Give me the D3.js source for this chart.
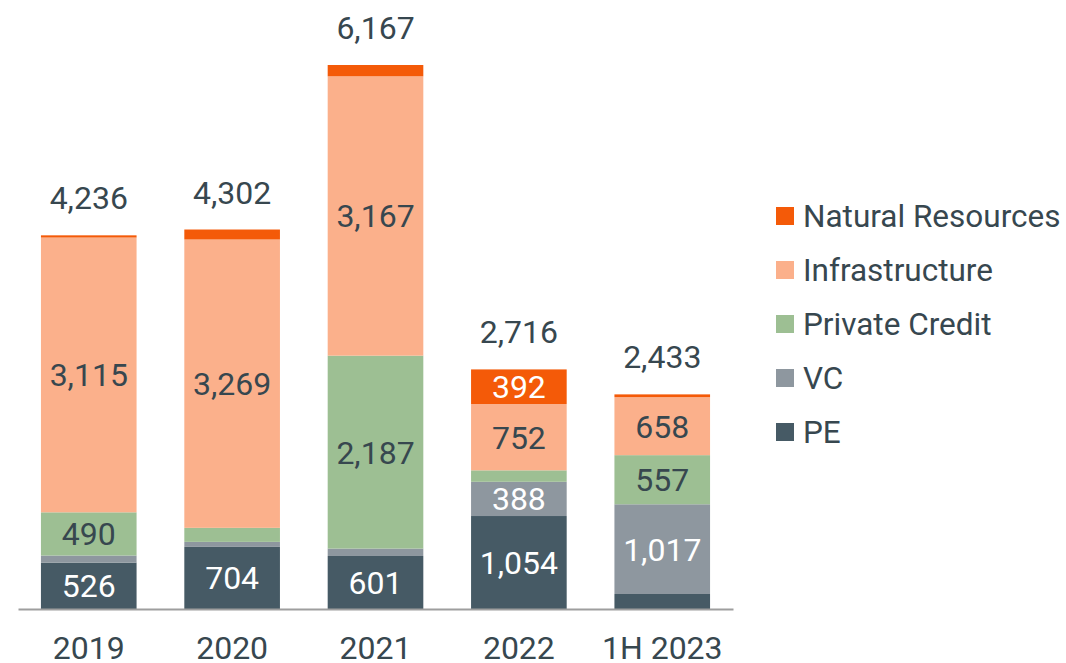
<!DOCTYPE html>
<html>
<head>
<meta charset="utf-8">
<script src="https://cdn.jsdelivr.net/npm/d3@7"></script>
<style>
	body { margin: 0; background: #fff; }
	svg { display: block; font-family: Roboto, "Noto Sans", sans-serif; }
</style>
</head>
<body>
<div id="container"></div>
<script>
"use strict";

// categories + series
const years = ["2019", "2020", "2021", "2022", "1H 2023"];
const series = ["PE", "VC", "Private Credit", "Infrastructure", "Natural Resources"];
const pe = [526, 704, 601, 1054, 170];
const vc = [80, 57, 84, 388, 1017];
const privateCredit = [490, 159, 2187, 130, 557];
const infrastructure = [3115, 3269, 3167, 752, 658];
const naturalResources = [25, 113, 128, 392, 31];
const totals = [4236, 4302, 6167, 2716, 2433];

const colors = ["#465a65", "#8e979f", "#9dbf93", "#fbb08b", "#f45a08"];
const labelColors = ["#fff", "#fff", "#37474f", "#37474f", "#fff"];
const textColor = "#37474f";
const fontSize = 32;

const W = 1066, H = 663;

const rows = years.map((y, i) => ({
	year: y,
	"PE": pe[i],
	"VC": vc[i],
	"Private Credit": privateCredit[i],
	"Infrastructure": infrastructure[i],
	"Natural Resources": naturalResources[i],
	total: totals[i],
}));

const svg = d3.select("#container")
	.append("svg")
	.attr("width", W)
	.attr("height", H);

const x = d3.scaleBand()
	.domain(years)
	.range([18, 733])
	.paddingInner(0.333)
	.paddingOuter(0.16);

const y = d3.scaleLinear()
	.domain([0, 6167])
	.range([609, 65]);

const stacked = d3.stack().keys(series)(rows);

// bars
const layers = svg.append("g")
	.selectAll("g")
	.data(stacked)
	.enter()
	.append("g")
	.attr("fill", (d, i) => colors[i]);

layers.selectAll("rect")
	.data(d => d)
	.enter()
	.append("rect")
	.attr("x", d => x(d.data.year))
	.attr("width", x.bandwidth())
	.attr("y", d => y(d[1]))
	.attr("height", d => y(d[0]) - y(d[1]));

// segment labels (only for the big enough segments)
const fmt = d3.format(",");
layers.each(function (layer, li) {
	d3.select(this).selectAll("text")
		.data(layer.filter(d => d[1] - d[0] > 300))
		.enter()
		.append("text")
		.attr("x", d => x(d.data.year) + x.bandwidth() / 2)
		.attr("y", d => (y(d[0]) + y(d[1])) / 2)
		.attr("dy", "0.36em")
		.attr("text-anchor", "middle")
		.attr("font-size", fontSize)
		.attr("fill", labelColors[li])
		.text(d => fmt(d[1] - d[0]));
});

// totals
svg.append("g")
	.selectAll("text")
	.data(rows)
	.enter()
	.append("text")
	.attr("x", d => x(d.year) + x.bandwidth() / 2)
	.attr("y", d => y(d.total) - 26)
	.attr("text-anchor", "middle")
	.attr("font-size", fontSize)
	.attr("fill", textColor)
	.text(d => fmt(d.total));

// x axis
const xAxis = svg.append("g")
	.attr("transform", "translate(0,609)")
	.call(d3.axisBottom(x).tickSize(0).tickPadding(27));
xAxis.select(".domain").attr("stroke", "#9e9e9e").attr("stroke-width", 2);
xAxis.selectAll("text")
	.attr("font-size", fontSize)
	.attr("font-family", "Roboto, sans-serif")
	.attr("fill", textColor);

// legend (top item = Natural Resources)
const legend = svg.append("g")
	.attr("transform", "translate(776,216)");
const items = legend.selectAll("g")
	.data(series.slice().reverse())
	.enter()
	.append("g")
	.attr("transform", (d, i) => `translate(0,${i * 54})`);
items.append("rect")
	.attr("x", 0)
	.attr("y", -9)
	.attr("width", 18)
	.attr("height", 18)
	.attr("fill", d => colors[series.indexOf(d)]);
items.append("text")
	.attr("x", 27)
	.attr("y", 0)
	.attr("dy", "0.36em")
	.attr("font-size", 31.5)
	.attr("fill", textColor)
	.text(d => d);
</script>
</body>
</html>
